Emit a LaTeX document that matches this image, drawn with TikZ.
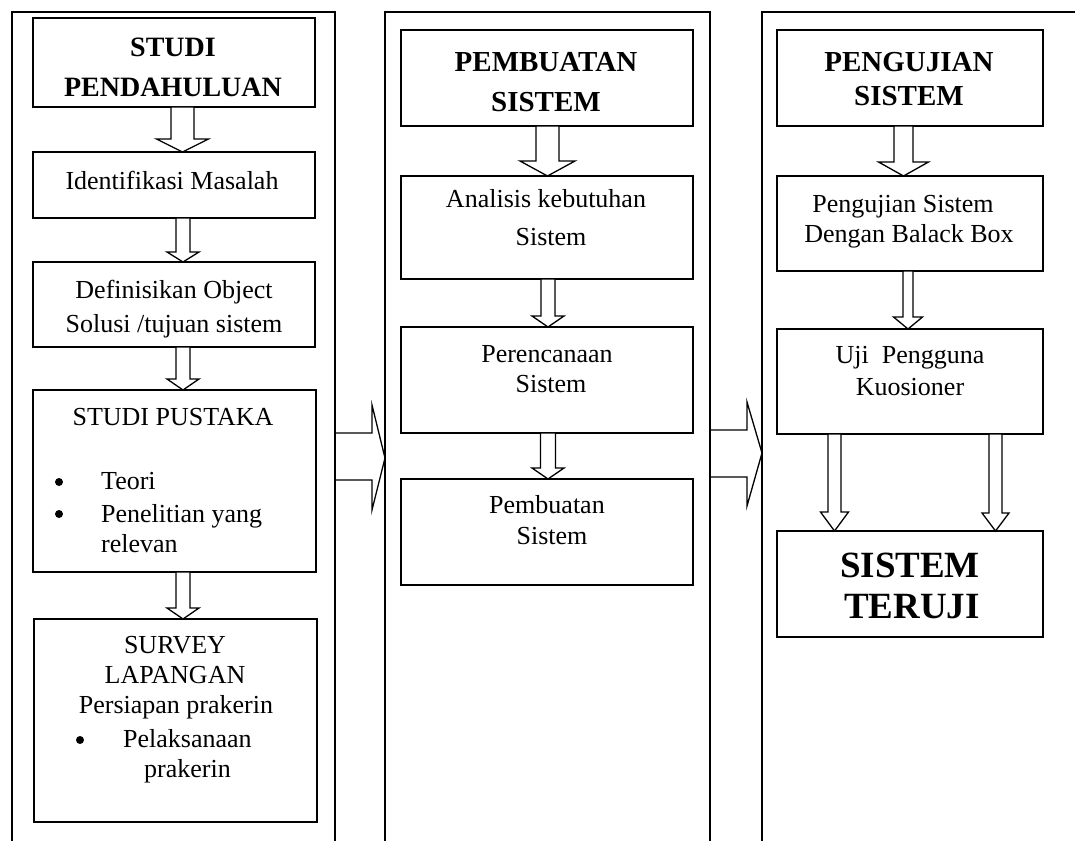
\documentclass[tikz,border=0pt]{standalone}
\usepackage{fontspec}
\setmainfont{Liberation Serif}
\usetikzlibrary{calc}

\tikzset{
  frame/.style={draw, line width=1.5pt, outer sep=0pt, inner sep=0pt},
  stepbox/.style={draw, line width=1.5pt, outer sep=0pt, inner sep=0pt, fill=white},
  blk/.style={draw, line width=1.3pt, fill=white, line join=miter},
  txt/.style={anchor=base, inner sep=0pt, font=\fontsize{26}{30}\selectfont},
  txtl/.style={txt, anchor=base west},
  dot/.style={circle, fill=black, inner sep=0pt, minimum size=8pt},
  ttl/.style={anchor=base, inner sep=0pt, font=\fontsize{29}{34}\selectfont\bfseries},
  ttlbig/.style={anchor=base, inner sep=0pt, font=\fontsize{37}{42}\selectfont\bfseries},
}

% box from corner (x1,y1) to corner (x2,y2)
\newcommand\stepnode[5]{%
  \node[stepbox, minimum width={(#4-#2)*1pt}, minimum height={(#5-#3)*1pt}]
    (#1) at ({(#2+#4)/2},{(#3+#5)/2}) {};}

% hollow block arrow pointing down: from, to, axis x, shaft half width, head half width, head length
\newcommand\blockdown[6]{%
  \draw[blk] ($(#3,0 |- #1.south)+(-#4,0)$)
    -- ($(#3,0 |- #2.north)+(-#4,-#6)$)
    -- ($(#3,0 |- #2.north)+(-#5,-#6)$)
    -- (#3,0 |- #2.north)
    -- ($(#3,0 |- #2.north)+(#5,-#6)$)
    -- ($(#3,0 |- #2.north)+(#4,-#6)$)
    -- ($(#3,0 |- #1.south)+(#4,0)$) -- cycle;}

\begin{document}
\begin{tikzpicture}[x=1pt, y=-1pt]
\useasboundingbox (0,0) rectangle (1075,840);
\clip (0,0) rectangle (1075,840);

% the three stage columns (open at the foot of the page)
\node[frame, minimum width=323pt, minimum height=888pt] (col1) at (173.5,456) {};
\node[frame, minimum width=325pt, minimum height=888pt] (col2) at (547.5,456) {};
\node[frame, minimum width=338pt, minimum height=888pt] (col3) at (931,456) {};

% ---- stage 1 ----
\stepnode{s1}{33}{18}{315}{107}
\stepnode{s2}{33}{152}{315}{218}
\stepnode{s3}{33}{262}{315}{347}
\stepnode{s4}{33}{390}{316}{572}
\stepnode{s5}{34}{619}{317}{822}

\node[ttl, font=\fontsize{28}{32}\selectfont\bfseries] (s1a) at (173,57) {STUDI};
\node[ttl, font=\fontsize{28}{32}\selectfont\bfseries] (s1b) at (173,97) {PENDAHULUAN};
\node[txt] (s2a) at (172,189) {Identifikasi Masalah};
\node[txt] (s3a) at (174,298) {Definisikan Object};
\node[txt] (s3b) at (174,332) {Solusi /tujuan sistem};
\node[txt] (s4a) at (173,425) {STUDI PUSTAKA};
\node[dot] (s4d1) at (59,482) {};
\node[txtl] (s4b) at (101,489) {Teori};
\node[dot] (s4d2) at (59,514) {};
\node[txtl] (s4c) at (101,522) {Penelitian yang};
\node[txtl] (s4e) at (101,552) {relevan};
\node[txt] (s5a) at (175,653) {SURVEY};
\node[txt] (s5b) at (175,683) {LAPANGAN};
\node[txt] (s5c) at (176,713) {Persiapan prakerin};
\node[dot] (s5d) at (80,740) {};
\node[txtl] (s5e) at (123,747) {Pelaksanaan};
\node[txtl] (s5f) at (144,777) {prakerin};

\blockdown{s1}{s2}{182.5}{11.5}{26}{13}
\blockdown{s2}{s3}{183}{7}{16}{10}
\blockdown{s3}{s4}{183}{7}{16}{11}
\blockdown{s4}{s5}{183}{7}{16}{11}

% ---- stage 2 ----
\stepnode{p1}{401}{30}{693}{126}
\stepnode{p2}{401}{176}{693}{279}
\stepnode{p3}{401}{327}{693}{433}
\stepnode{p4}{401}{479}{693}{585}

\node[ttl] (p1a) at (546,72) {PEMBUATAN};
\node[ttl] (p1b) at (546,112) {SISTEM};
\node[txt] (p2a) at (546,207) {Analisis kebutuhan};
\node[txt] (p2b) at (551,245) {Sistem};
\node[txt] (p3a) at (547,362) {Perencanaan};
\node[txt] (p3b) at (551,392) {Sistem};
\node[txt] (p4a) at (547,513) {Pembuatan};
\node[txt] (p4b) at (552,544) {Sistem};

\blockdown{p1}{p2}{547.5}{11.5}{27.5}{15}
\blockdown{p2}{p3}{548}{7}{16}{11}
\blockdown{p3}{p4}{548}{7.5}{16}{11}

% ---- stage 3 ----
\stepnode{u1}{777}{30}{1043}{126}
\stepnode{u2}{777}{176}{1043}{271}
\stepnode{u3}{777}{329}{1043}{434}
\stepnode{u4}{777}{531}{1043}{637}

\node[ttl] (u1a) at (909,72) {PENGUJIAN};
\node[ttl] (u1b) at (909,106) {SISTEM};
\node[txt] (u2a) at (903,212) {Pengujian Sistem};
\node[txt] (u2b) at (909,242) {Dengan Balack Box};
\node[txt] (u3a) at (910,363) {Uji\ \ Pengguna};
\node[txt] (u3b) at (910,395) {Kuosioner};
\node[ttlbig] (u4a) at (910,577) {SISTEM};
\node[ttlbig] (u4b) at (912,618) {TERUJI};

\blockdown{u1}{u2}{903.5}{9.5}{25}{14}
\blockdown{u2}{u3}{908}{5}{14.5}{12}
\blockdown{u3}{u4}{834.5}{6.5}{14}{19}
\blockdown{u3}{u4}{995.5}{6.5}{13.5}{18}

% ---- arrows between the stages ----
\draw[blk, fill=none] (col1.east |- 0,433)
  -- ($(col2.west |- 0,433)+(-13,0)$)
  -- ($(col2.west |- 0,405)+(-13,0)$)
  -- (col2.west |- 0,458)
  -- ($(col2.west |- 0,510)+(-13,0)$)
  -- ($(col2.west |- 0,480)+(-13,0)$)
  -- (col1.east |- 0,480);
\draw[blk, fill=none] (col2.east |- 0,430)
  -- ($(col3.west |- 0,430)+(-15,0)$)
  -- ($(col3.west |- 0,402)+(-15,0)$)
  -- (col3.west |- 0,453)
  -- ($(col3.west |- 0,506)+(-15,0)$)
  -- ($(col3.west |- 0,477)+(-15,0)$)
  -- (col2.east |- 0,477);
\end{tikzpicture}
\end{document}
